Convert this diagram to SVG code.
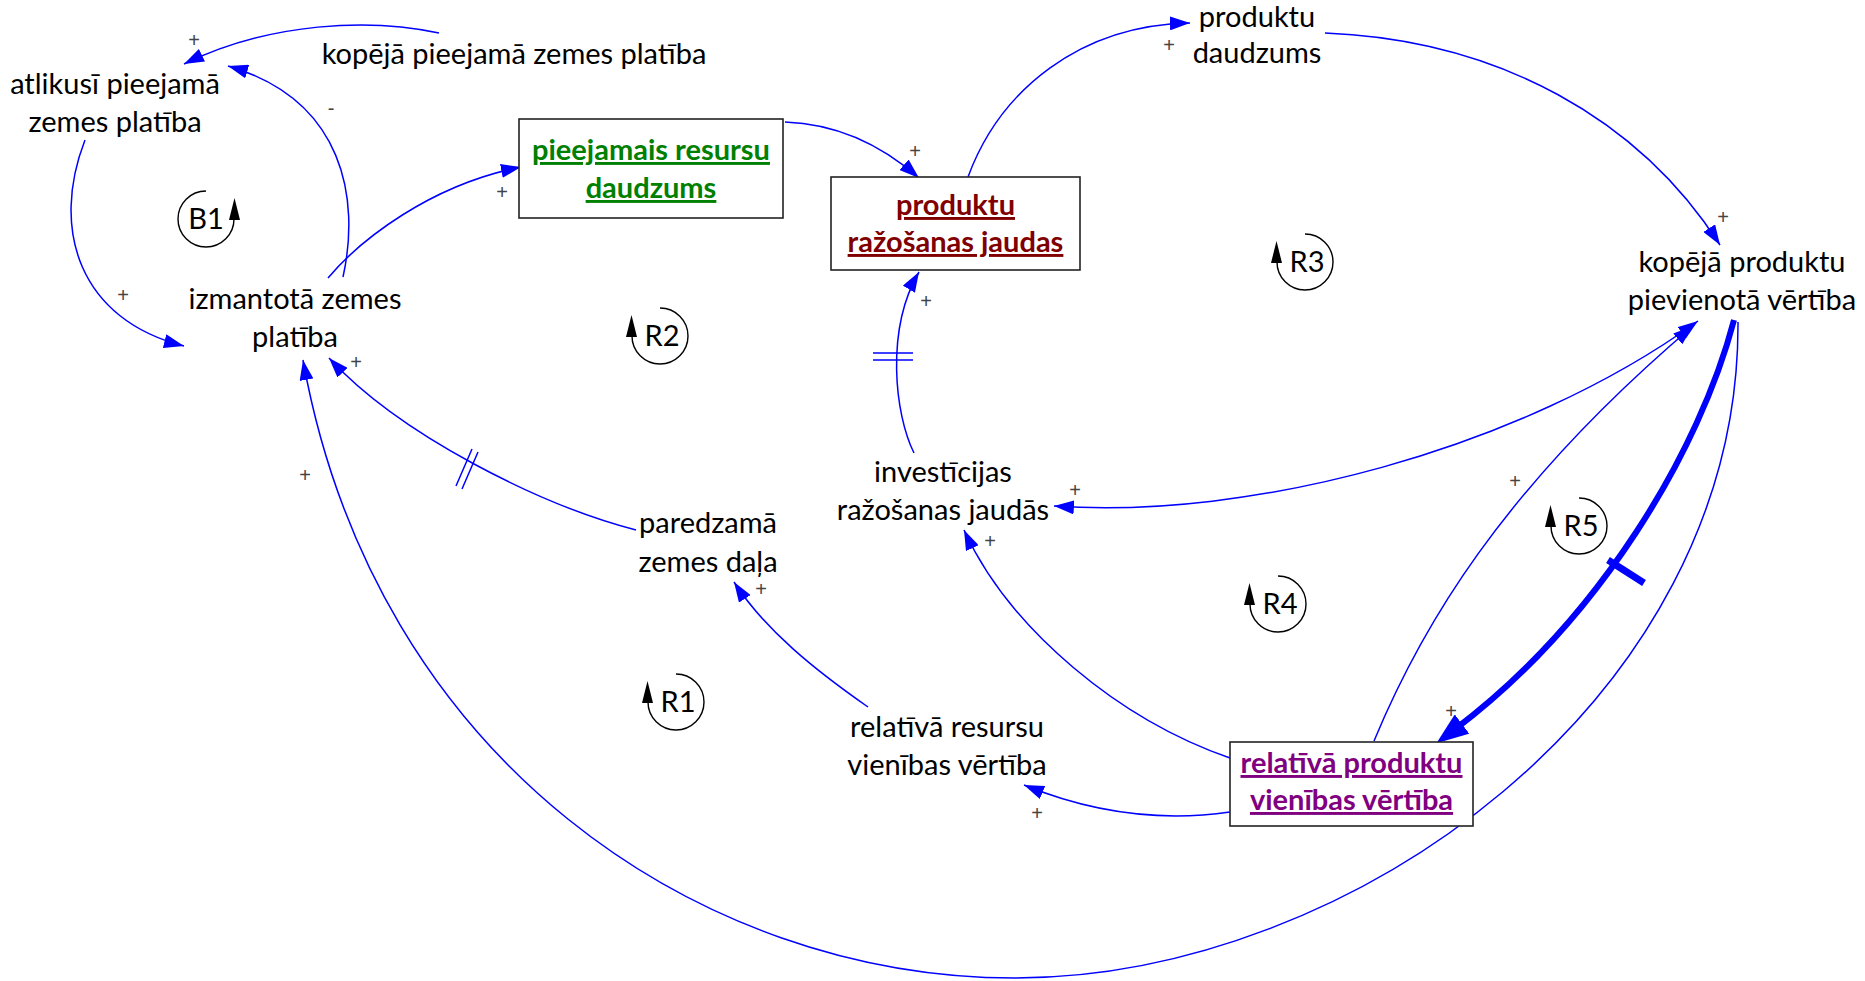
<svg xmlns="http://www.w3.org/2000/svg" xmlns:xlink="http://www.w3.org/1999/xlink" width="1865" height="981" viewBox="0 0 1865 981">
<style>
.t{font-family:Lato,"Liberation Sans",sans-serif;font-size:29px;fill:#000;text-anchor:middle}
.b{font-weight:bold;text-decoration:underline}
.green{fill:#008000}
.red{fill:#800000}
.purple{fill:#800080}
.s{font-family:"Liberation Sans",sans-serif;font-size:20px;fill:#444;text-anchor:middle}
.c{fill:none;stroke:#0000FF;stroke-width:1.5}
.box{fill:#fff;stroke:#222;stroke-width:1.6}
.lp{font-family:Lato,"Liberation Sans",sans-serif;font-size:29px;fill:#000;text-anchor:middle}
</style>
<defs>
<marker id="ah" viewBox="0 0 20 14" refX="20" refY="7" markerWidth="20" markerHeight="14" markerUnits="userSpaceOnUse" orient="auto-start-reverse"><path d="M0,0 L20,7 L0,14 Z" fill="#0000FF"/></marker>
<marker id="ahT" viewBox="0 0 32 24" refX="10" refY="12" markerWidth="32" markerHeight="24" markerUnits="userSpaceOnUse" orient="auto"><path d="M0,0 L32,12 L0,24 Z" fill="#0000FF"/></marker>
<g id="loopR"><path d="M 0 -28 A 28 28 0 1 1 -28 0" fill="none" stroke="#000" stroke-width="1.4"/><path d="M -28.5 -21 L -34 1 L -23 1 Z" fill="#000"/></g>
</defs>
<rect width="1865" height="981" fill="#fff"/>

<g id="connectors">
<path class="c" d="M 439 33 C 370 18 270 22 184 64" marker-end="url(#ah)"/>
<path class="c" d="M 343 277 C 360 200 345 100 228 66" marker-end="url(#ah)"/>
<path class="c" d="M 85 140 C 50 230 80 320 184 346" marker-end="url(#ah)"/>
<path class="c" d="M 328 278 C 360 240 430 185 521 167" marker-end="url(#ah)"/>
<path class="c" d="M 785 122 C 840 124 885 148 919 178" marker-end="url(#ah)"/>
<path class="c" d="M 968 177 C 1000 90 1080 25 1190 23" marker-end="url(#ah)"/>
<path class="c" d="M 1325 33 C 1500 40 1640 120 1720 245" marker-end="url(#ah)"/>
<path class="c" d="M 914 453 C 895 415 885 330 919 272" marker-end="url(#ah)"/>
<path class="c" d="M 1054 506 C 1250 520 1520 450 1698 321" marker-start="url(#ah)" marker-end="url(#ah)"/>
<path class="c" d="M 1374 741 C 1420 630 1500 490 1693 326" marker-end="url(#ah)"/>
<path fill="none" stroke="#0000FF" stroke-width="6" d="M 1734 320 C 1700 450 1600 620 1454 730" marker-end="url(#ahT)"/>
<path class="c" d="M 1738 322 C 1740 700 1350 978 1015 978 C 700 978 375 760 303 360" marker-end="url(#ah)"/>
<path class="c" d="M 636 530 C 540 505 400 435 329 358" marker-end="url(#ah)"/>
<path class="c" d="M 868 707 C 815 670 765 630 734 582" marker-end="url(#ah)"/>
<path class="c" d="M 1230 758 C 1120 720 1010 630 964 530" marker-end="url(#ah)"/>
<path class="c" d="M 1230 812 C 1160 822 1090 812 1024 785" marker-end="url(#ah)"/>
<path class="c" d="M 873 353 L 913 353 M 873 360 L 913 360"/>
<path class="c" d="M 456 486 L 472 449 M 462 489 L 478 452"/>
<path fill="none" stroke="#0000FF" stroke-width="7" d="M 1608 560 L 1644 583"/>
<text class="s" x="194" y="47">+</text>
<text class="s" x="331" y="115">-</text>
<text class="s" x="123" y="302">+</text>
<text class="s" x="502" y="199">+</text>
<text class="s" x="915" y="158">+</text>
<text class="s" x="1169" y="52">+</text>
<text class="s" x="1723" y="224">+</text>
<text class="s" x="926" y="308">+</text>
<text class="s" x="356" y="369">+</text>
<text class="s" x="305" y="482">+</text>
<text class="s" x="1075" y="497">+</text>
<text class="s" x="1515" y="488">+</text>
<text class="s" x="1451" y="718">+</text>
<text class="s" x="761" y="596">+</text>
<text class="s" x="990" y="548">+</text>
<text class="s" x="1037" y="820">+</text>
</g>

<g id="n-atlikusi"><text class="t" x="115" y="94">atlikusī pieejamā</text><text class="t" x="115" y="132">zemes platība</text></g>
<g id="n-kopeja-zeme"><text class="t" x="514" y="64">kopējā pieejamā zemes platība</text></g>
<g id="n-izmantota"><text class="t" x="295" y="309">izmantotā zemes</text><text class="t" x="295" y="347">platība</text></g>
<g id="n-resursi"><rect class="box" x="519" y="119" width="264" height="99"/><text class="t b green" x="651" y="160">pieejamais resursu</text><text class="t b green" x="651" y="198">daudzums</text></g>
<g id="n-jaudas"><rect class="box" x="831" y="177" width="249" height="93"/><text class="t b red" x="955.5" y="215">produktu</text><text class="t b red" x="955.5" y="252">ražošanas jaudas</text></g>
<g id="n-daudzums"><text class="t" x="1257" y="27">produktu</text><text class="t" x="1257" y="63">daudzums</text></g>
<g id="n-vertiba"><text class="t" x="1742" y="272">kopējā produktu</text><text class="t" x="1742" y="310">pievienotā vērtība</text></g>
<g id="n-investicijas"><text class="t" x="943" y="482">investīcijas</text><text class="t" x="943" y="520">ražošanas jaudās</text></g>
<g id="n-paredzama"><text class="t" x="708" y="533">paredzamā</text><text class="t" x="708" y="572">zemes daļa</text></g>
<g id="n-resursu-vert"><text class="t" x="947" y="737">relatīvā resursu</text><text class="t" x="947" y="775">vienības vērtība</text></g>
<g id="n-produktu-vert"><rect class="box" x="1230" y="742" width="243" height="84"/><text class="t b purple" x="1351.5" y="773">relatīvā produktu</text><text class="t b purple" x="1351.5" y="810">vienības vērtība</text></g>

<g id="loop-B1"><use xlink:href="#loopR" transform="translate(206,219) scale(-1,1)"/><text class="lp" x="206" y="229">B1</text></g>
<g id="loop-R2"><use xlink:href="#loopR" transform="translate(660,336)"/><text class="lp" x="662" y="346">R2</text></g>
<g id="loop-R3"><use xlink:href="#loopR" transform="translate(1305,262)"/><text class="lp" x="1307" y="272">R3</text></g>
<g id="loop-R4"><use xlink:href="#loopR" transform="translate(1278,604)"/><text class="lp" x="1280" y="614">R4</text></g>
<g id="loop-R5"><use xlink:href="#loopR" transform="translate(1579,526)"/><text class="lp" x="1581" y="536">R5</text></g>
<g id="loop-R1"><use xlink:href="#loopR" transform="translate(676,702)"/><text class="lp" x="678" y="712">R1</text></g>
</svg>
